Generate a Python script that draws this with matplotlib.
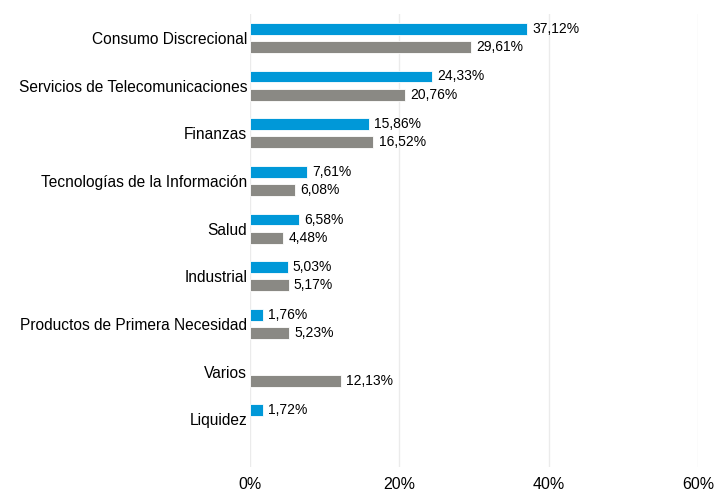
import matplotlib.pyplot as plt
import numpy as np

plt.rcParams['font.family'] = ['Liberation Sans', 'DejaVu Sans']

categories = ['Consumo Discrecional', 'Servicios de Telecomunicaciones', 'Finanzas',
              'Tecnologías de la Información', 'Salud', 'Industrial',
              'Productos de Primera Necesidad', 'Varios', 'Liquidez']
serie_azul = [37.12, 24.33, 15.86, 7.61, 6.58, 5.03, 1.76, None, 1.72]
serie_gris = [29.61, 20.76, 16.52, 6.08, 4.48, 5.17, 5.23, 12.13, None]
ticks = [0, 20, 40, 60]

azul = '#0098D8'
gris = '#8A8984'

fig = plt.figure(figsize=(7.16, 4.92), dpi=100)
ax = fig.add_axes([0.3492, 0.0508, 0.626, 0.9207])

y = np.arange(len(categories))
off = 0.19
h = 0.25

def etiqueta(v):
    return f'{v:.2f}'.replace('.', ',') + '%'

for i, (a, g) in enumerate(zip(serie_azul, serie_gris)):
    if a is not None:
        ax.barh(y[i] - off, a, height=h, color=azul, edgecolor='white', linewidth=0.6)
        ax.text(a + 0.7, y[i] - off, etiqueta(a), va='center', ha='left', fontsize=10)
    if g is not None:
        ax.barh(y[i] + off, g, height=h, color=gris, edgecolor='white', linewidth=0.6)
        ax.text(g + 0.7, y[i] + off, etiqueta(g), va='center', ha='left', fontsize=10)

ax.set_xlim(0, 60)
ax.set_ylim(9.0, -0.5)
ax.set_yticks(y)
ax.set_yticklabels(categories, fontsize=11.2)
ax.set_xticks(ticks)
ax.set_xticklabels([f'{t}%' for t in ticks], fontsize=11.5)
ax.tick_params(length=0, pad=2)
ax.tick_params(axis='x', pad=7)
ax.grid(axis='x', color='#EBEBEB', linewidth=1)
ax.set_axisbelow(True)
for s in ax.spines.values():
    s.set_visible(False)

plt.savefig('out.png', dpi=100)
